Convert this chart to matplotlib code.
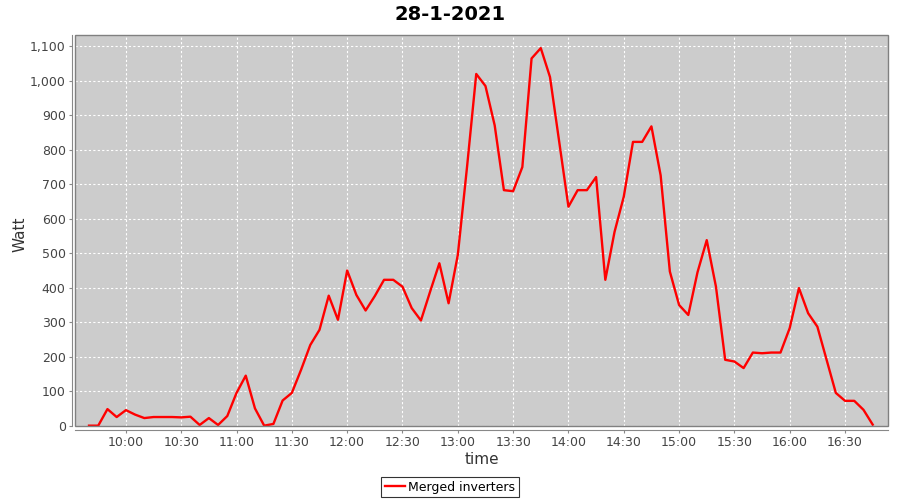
import numpy as np
import pandas as pd
import matplotlib
matplotlib.use("Agg")
from matplotlib import pyplot as plt
import matplotlib.dates as mdates
from matplotlib.patches import Rectangle

## DATA : 5 minute readings, 28-1-2021 ##
times = pd.date_range("2021-01-28 09:40", "2021-01-28 16:45", freq="5min")
watt = [0, 0, 48, 25,                                          # 09:40 - 09:55
        45, 32, 22, 25, 25, 25, 24, 26, 2, 22, 2, 28,          # 10:00 - 10:55
        95, 145, 50, 0, 5, 73, 95, 162, 234, 278, 377, 307,    # 11:00 - 11:55
        450, 379, 334, 376, 423, 423, 403, 341, 305, 389, 471, 355,   # 12:00 - 12:55
        495, 750, 1020, 985, 871, 683, 680, 750, 1065, 1095, 1011, 823,  # 13:00 - 13:55
        635, 683, 683, 721, 423, 562, 664, 823, 823, 868, 726, 447,   # 14:00 - 14:55
        350, 321, 445, 538, 403, 191, 186, 167, 212, 210, 212, 212,   # 15:00 - 15:55
        283, 399, 326, 287, 191, 95, 72, 72, 46, 3]            # 16:00 - 16:45
series_name = "Merged inverters"
title = "28-1-2021"

yticks = np.arange(0, 1101, 100)

## PLOT ##
fig = plt.figure(figsize=(9, 5), dpi=100)
ax = fig.add_axes([75/900, 1-426/500, (888-75)/900, (426-35)/500])
ax.set_facecolor("#cccccc")

ax.plot(times, watt, color="red", lw=1.7, solid_joinstyle="round", label=series_name)

# axis ranges
ax.set_ylim(-1, 1133)
ax.set_xlim(pd.Timestamp("2021-01-28 09:32:24"), pd.Timestamp("2021-01-28 16:53:18"))

ax.set_yticks(yticks)
ax.set_yticklabels([f"{v:,}" for v in yticks])
ax.xaxis.set_major_locator(mdates.MinuteLocator(byminute=[0, 30]))
ax.xaxis.set_major_formatter(mdates.DateFormatter("%H:%M"))

ax.grid(True, color="white", ls=(0, (2, 2)), lw=0.8)
ax.set_axisbelow(True)

# JFreeChart style: axes set off from the plot area
for s in ["top", "right"]:
    ax.spines[s].set_visible(False)
ax.spines["left"].set_position(("outward", 2.2))
ax.spines["bottom"].set_position(("outward", 2.9))
for s in ["left", "bottom"]:
    ax.spines[s].set_color("#888888")
ax.add_patch(Rectangle((0, 0), 1, 1, transform=ax.transAxes, fill=False,
                       edgecolor="#808080", lw=1.0, clip_on=False, zorder=5))

ax.tick_params(colors="#888888", labelcolor="#444444", labelsize=9, length=2, pad=2.5)

ax.set_ylabel("Watt", fontsize=11, color="#333333")
ax.set_xlabel("time", fontsize=11, color="#333333")
ax.yaxis.set_label_coords(-0.058, 0.49)
ax.xaxis.set_label_coords(0.5, -0.0665)
fig.suptitle(title, fontsize=14, fontweight="bold", y=1-14/500, va="center")

leg = fig.legend(loc="center", bbox_to_anchor=(450/900, 1-487/500), fontsize=9,
                 frameon=True, fancybox=False, edgecolor="black", handlelength=1.6,
                 borderpad=0.3, handletextpad=0.3)
leg.get_frame().set_linewidth(0.8)

plt.savefig("out.png", dpi=100)
